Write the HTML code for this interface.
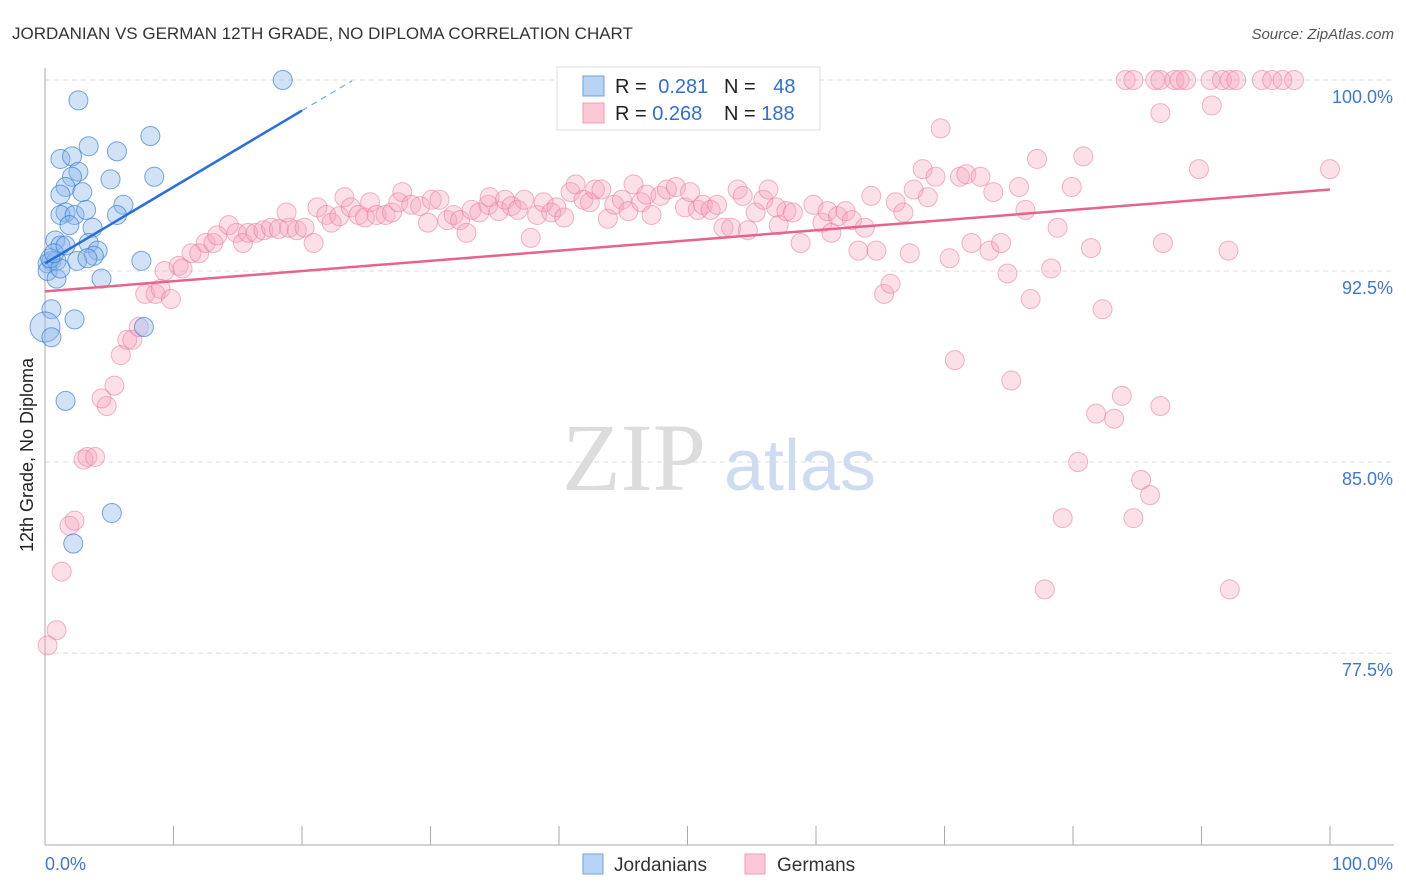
<!DOCTYPE html>
<html><head><meta charset="utf-8">
<style>
body{margin:0;background:#fff;font-family:"Liberation Sans",sans-serif;}
#wrap{position:relative;width:1406px;height:892px;overflow:hidden;}
svg text{font-family:"Liberation Sans",sans-serif;}
</style></head>
<body>
<div id="wrap">
<svg id="chart" width="1406" height="892">
<text x="12" y="39" font-size="17" fill="#333">JORDANIAN VS GERMAN 12TH GRADE, NO DIPLOMA CORRELATION CHART</text>
<text x="1394" y="39" font-size="15" fill="#555" font-style="italic" text-anchor="end">Source: ZipAtlas.com</text>
<text x="33" y="455" font-size="18" fill="#222" text-anchor="middle" transform="rotate(-90 33 455)">12th Grade, No Diploma</text>
<g>
<text x="634" y="490" font-size="96" fill="#dcdcdc" text-anchor="middle" style="font-family:'Liberation Serif',serif">ZIP</text>
<text x="800" y="490" font-size="72" fill="#cddcf0" text-anchor="middle">atlas</text>
</g>
<g id="grid"></g>
<g id="axes"></g>
<g id="points"></g>
<g id="trends"></g>
<g>
<rect x="557" y="67" width="263" height="63" fill="#fff" stroke="#ddd"/>
<rect x="583" y="76" width="21" height="20" fill="#b9d3f5" stroke="#6fa0e0"/>
<rect x="583" y="103" width="21" height="20" fill="#fbc9d6" stroke="#f09ab2"/>
<text x="615" y="93" font-size="20" fill="#222">R = <tspan fill="#2f6fd0" dx="6">0.281</tspan></text>
<text x="724" y="93" font-size="20" fill="#222">N = <tspan fill="#2f6fd0" dx="12">48</tspan></text>
<text x="615" y="120" font-size="20" fill="#222">R = <tspan fill="#2f6fd0">0.268</tspan></text>
<text x="724" y="120" font-size="20" fill="#222">N = <tspan fill="#2f6fd0">188</tspan></text>
</g>
<g>
<rect x="583" y="854" width="20" height="20" fill="#b9d3f5" stroke="#6fa0e0"/>
<text x="614" y="871" font-size="19" fill="#333">Jordanians</text>
<rect x="745" y="854" width="20" height="20" fill="#fbc9d6" stroke="#f09ab2"/>
<text x="777" y="871" font-size="19" fill="#333">Germans</text>
</g>
</svg>
</div>
<script>
const yTicks=[100,92.5,85,77.5];
const yTickLabels=["100.0%","92.5%","85.0%","77.5%"];
const xTickLabels=["0.0%","100.0%"];
const blueX=[18.5,2.6,8.2,3.4,1.2,2.1,5.6,5.1,8.5,2.6,2.1,1.6,2.9,1.2,1.6,1.2,2.3,3.2,6.1,5.6,3.7,1.9,0.8,1.2,3.4,4.1,3.8,2.5,0.5,0.2,7.5,0.2,0.9,4.4,0.5,2.3,7.7,0,0.5,1.6,5.2,2.2,0.9,0.4,1.2,3.3,0.7,1.6];
const blueY=[100,99.2,97.8,97.4,96.9,97.0,97.2,96.1,96.2,96.4,96.2,95.8,95.6,95.5,94.8,94.7,94.7,94.9,95.1,94.7,94.2,94.3,93.7,93.5,93.6,93.3,93.1,92.9,92.9,92.8,92.9,92.5,92.2,92.2,91.0,90.6,90.3,90.3,89.9,87.4,83.0,81.8,92.9,93.0,92.6,93.0,93.2,93.5];
const pinkX=[0.2,0.9,1.3,1.9,2.3,3.0,3.3,3.9,4.8,4.4,5.4,5.9,6.4,6.8,7.3,7.8,8.6,9.0,9.8,9.3,10.4,10.7,11.4,12.0,12.5,13.1,13.4,14.3,14.9,15.4,15.8,16.4,17.0,17.6,18.2,19.0,19.6,20.2,20.9,18.8,21.2,21.9,22.3,22.9,23.3,23.8,24.4,24.9,25.3,25.8,26.5,27.0,27.5,27.8,28.5,29.2,29.8,30.1,30.7,31.3,31.8,32.3,32.8,33.2,33.8,34.5,34.6,35.3,35.8,36.3,36.8,37.3,37.8,38.3,38.8,39.4,39.8,40.4,40.9,41.3,41.9,42.4,42.8,43.3,43.8,44.3,44.9,45.4,45.8,46.4,46.8,47.2,47.9,48.4,49.1,49.8,50.2,50.8,51.2,51.8,52.3,52.8,53.4,53.9,54.3,54.7,55.3,55.9,56.3,56.9,57.1,57.7,58.2,58.8,59.8,60.5,60.9,61.2,61.7,62.3,62.8,63.3,63.8,64.3,64.7,65.3,65.8,66.2,66.8,67.3,67.6,68.3,68.7,69.3,69.7,70.4,70.8,71.2,71.7,72.1,72.8,73.5,73.8,74.4,74.9,75.2,75.8,76.3,76.7,77.2,78.3,78.8,79.9,80.4,80.8,81.4,81.8,82.3,83.2,83.8,84.7,85.3,86.0,86.8,87.0,77.8,79.2,84.1,84.7,86.4,86.8,87.9,88.3,88.8,90.7,91.6,92.2,92.7,94.7,95.5,96.3,97.2,86.8,90.8,89.8,92.1,92.2,100];
const pinkY=[77.8,78.4,80.7,82.5,82.7,85.1,85.2,85.2,87.2,87.5,88.0,89.2,89.8,89.8,90.3,91.6,91.6,91.8,91.4,92.5,92.7,92.6,93.2,93.2,93.6,93.6,93.9,94.3,94.0,93.6,94.0,94.0,94.1,94.2,94.15,94.2,94.1,94.2,93.6,94.8,95.0,94.7,94.4,94.65,95.4,95.0,94.7,94.6,95.2,94.7,94.7,94.8,95.2,95.6,95.1,95.05,94.4,95.3,95.3,94.5,94.7,94.5,94.0,94.9,94.8,95.1,95.4,94.85,95.3,95.05,94.9,95.3,93.8,94.7,95.2,94.8,95.0,94.6,95.6,95.9,95.3,95.2,95.7,95.7,94.55,95.1,95.3,94.85,95.9,95.2,95.5,94.7,95.45,95.7,95.8,95.0,95.6,94.9,95.1,94.9,95.1,94.2,94.2,95.7,95.45,94.1,94.8,95.3,95.7,95.0,94.3,94.85,94.8,93.6,95.1,94.4,94.85,94.0,94.65,94.85,94.5,93.3,94.2,95.45,93.3,91.6,92.0,95.2,94.8,93.2,95.7,96.5,95.4,96.2,98.1,93.0,89.0,96.2,96.3,93.6,96.2,93.3,95.6,93.6,92.4,88.2,95.8,94.9,91.4,96.9,92.6,94.2,95.8,85.0,97.0,93.4,86.9,91.0,86.7,87.6,82.8,84.3,83.7,87.2,93.6,80.0,82.8,100,100,100,100,100,100,100,100,100,100,100,100,100,100,100,98.7,99.0,96.5,93.3,80.0,96.5];
const blueTrend=[92.8,0.30];
const pinkTrend=[91.7,0.04];
const blueSolidEnd=20, blueDashEnd=23.9;

const X0=45,X1=1330,Y100=80,PXPER=25.47;
const sx=v=>X0+(X1-X0)*v/100;
const sy=v=>Y100+(100-v)*PXPER;
const NS="http://www.w3.org/2000/svg";
function mk(tag,attrs,parent){const e=document.createElementNS(NS,tag);for(const k in attrs)e.setAttribute(k,attrs[k]);parent.appendChild(e);return e;}
const grid=document.getElementById('grid'),axes=document.getElementById('axes'),pts=document.getElementById('points'),tr=document.getElementById('trends');
yTicks.forEach((t,i)=>{
  const l=mk('line',{x1:X0,x2:1394,y1:sy(t),y2:sy(t),stroke:'#ddd','stroke-dasharray':'5,4'},grid);
  
  
  const tx=mk('text',{x:1393,y:sy(t)+23,'font-size':18,fill:'#3d77d6','text-anchor':'end'},grid);
  tx.textContent=yTickLabels[i];
  
  
});
let a=mk('line',{x1:X0,x2:X0,y1:68,y2:845,stroke:'#aaa'},axes);


a=mk('line',{x1:X0,x2:1394,y1:845,y2:845,stroke:'#aaa'},axes);


for(let i=0;i<=10;i++){
  const t=mk('line',{x1:sx(i*10),x2:sx(i*10),y1:826,y2:845,stroke:'#aaa'},axes);
  
  
}
let xl=mk('text',{x:45,y:870,'font-size':18,fill:'#3d77d6'},axes);xl.textContent=xTickLabels[0];


xl=mk('text',{x:1393,y:870,'font-size':18,fill:'#3d77d6','text-anchor':'end'},axes);xl.textContent=xTickLabels[1];


pinkX.forEach((x,i)=>{
  const c=mk('circle',{cx:sx(x),cy:sy(pinkY[i]),r:9.5,fill:'rgba(246,160,186,0.33)',stroke:'rgba(234,120,155,0.55)','stroke-width':1},pts);
  
  
});
blueX.forEach((x,i)=>{
  const c=mk('circle',{cx:sx(x),cy:sy(blueY[i]),r:(x===0?15:9.5),fill:'rgba(140,182,236,0.4)',stroke:'rgba(50,120,210,0.65)','stroke-width':1},pts);
  
  
});
let t1=mk('line',{x1:sx(0),y1:sy(blueTrend[0]),x2:sx(blueSolidEnd),y2:sy(blueTrend[0]+blueTrend[1]*blueSolidEnd),stroke:'#2870d8','stroke-width':2.5},tr);


t1=mk('line',{x1:sx(blueSolidEnd),y1:sy(blueTrend[0]+blueTrend[1]*blueSolidEnd),x2:sx(blueDashEnd),y2:sy(blueTrend[0]+blueTrend[1]*blueDashEnd),stroke:'#7aa8e8','stroke-width':1.2,'stroke-dasharray':'6,5'},tr);


t1=mk('line',{x1:sx(0),y1:sy(pinkTrend[0]),x2:sx(100),y2:sy(pinkTrend[0]+pinkTrend[1]*100),stroke:'#e8628f','stroke-width':2.5},tr);


</script>
</body></html>
